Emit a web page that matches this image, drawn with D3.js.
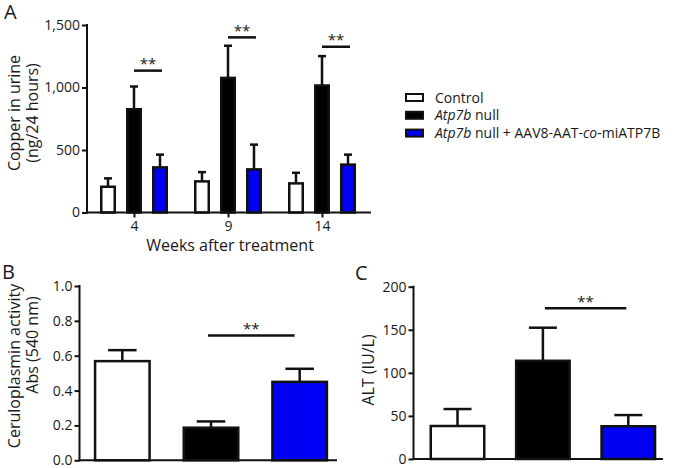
<!DOCTYPE html>
<html><head><meta charset="utf-8">
<script src="https://cdn.jsdelivr.net/npm/d3@7"></script>
<style>
body{margin:0;background:#fff}
text{font-family:"Open Sans",sans-serif;fill:#1a1a1a}
</style>
</head><body><svg id="c" width="674" height="468"></svg>
<script>
// ---------- data ----------
const weeks = ["4", "9", "14"];
const groups = ["Control", "Atp7b null", "Atp7b null + AAV8-AAT-co-miATP7B"];
const groupColors = ["#ffffff", "#000000", "#0000f5"];

// Panel A: copper in urine (ng/24 hours), mean and mean+SEM per week
const copperControl = [206, 249, 233];
const copperControlTop = [273, 323, 318];
const copperNull = [826, 1077, 1016];
const copperNullTop = [1008, 1334, 1251];
const copperTreated = [361, 345, 383];
const copperTreatedTop = [463, 543, 463];
const copperSigLevel = [1135, 1401, 1326];
const copperTicks = [0, 500, 1000, 1500];

// Panel B: ceruloplasmin activity
const cpMean = [0.569, 0.187, 0.45];
const cpTop = [0.632, 0.223, 0.525];
const cpSigLevel = 0.716;
const cpTicks = [0, 0.2, 0.4, 0.6, 0.8, 1.0];

// Panel C: ALT (IU/L)
const altMean = [38.3, 114, 38];
const altTop = [58, 152.4, 51];
const altSigLevel = 175;
const altTicks = [0, 50, 100, 150, 200];

// ---------- drawing ----------
const svg = d3.select("#c");
const INK = "#111";

function styleAxis(sel) {
  sel.selectAll("path.domain").remove();
  sel.selectAll(".tick line").attr("stroke", INK).attr("stroke-width", 2);
  sel.selectAll(".tick text").attr("font-size", 14).attr("fill", "#1a1a1a")
     .style("font-family", "'Open Sans', sans-serif");
}

function drawBar(g, cx, w, y, v, top, color) {
  g.append("line").attr("x1", cx).attr("x2", cx)
    .attr("y1", y(v)).attr("y2", y(top))
    .attr("stroke", INK).attr("stroke-width", 2.5);
  g.append("line").attr("x1", cx - w / 4).attr("x2", cx + w / 4)
    .attr("y1", y(top)).attr("y2", y(top))
    .attr("stroke", INK).attr("stroke-width", 2.5);
  g.append("rect").attr("x", cx - w / 2 + 1.25).attr("width", w - 2.5)
    .attr("y", y(v)).attr("height", y(0) - y(v))
    .attr("fill", color).attr("stroke", INK).attr("stroke-width", 2.5);
}

function sig(g, x1, x2, yy) {
  g.append("line").attr("x1", x1).attr("x2", x2).attr("y1", yy).attr("y2", yy)
    .attr("stroke", INK).attr("stroke-width", 2.5);
  g.append("text").attr("x", (x1 + x2) / 2).attr("y", yy - 1.5)
    .attr("text-anchor", "middle").attr("font-size", 15).text("**");
}

function yAxis(g, y, ticks, fmt, x0) {
  const ax = g.append("g").attr("transform", `translate(${x0},0)`)
    .call(d3.axisLeft(y).tickValues(ticks).tickFormat(fmt).tickSize(5).tickPadding(2));
  styleAxis(ax);
  g.append("line").attr("x1", x0).attr("x2", x0)
    .attr("y1", y(0) + 1).attr("y2", y(ticks[ticks.length - 1]) - 1)
    .attr("stroke", INK).attr("stroke-width", 2);
}

function baseline(g, y, x0, x1) {
  g.append("line").attr("x1", x0 - 1).attr("x2", x1).attr("y1", y(0)).attr("y2", y(0))
    .attr("stroke", INK).attr("stroke-width", 2);
}

function panelLabel(t, x, yy) {
  svg.append("text").attr("x", x).attr("y", yy).attr("font-size", 20).text(t);
}

function vLabel(g, x, yy, t) {
  g.append("text").attr("transform", `translate(${x},${yy}) rotate(-90)`)
    .attr("text-anchor", "middle").attr("font-size", 16).text(t);
}

// ---- Panel A ----
{
  const g = svg.append("g");
  const y = d3.scaleLinear([0, 1500], [212.5, 25]);
  const x = d3.scalePoint(weeks, [87, 369]).padding(0.5);
  const sub = d3.scaleBand(groups, [-39, 39]).paddingInner(10 / 26).paddingOuter(5 / 26);
  const w = sub.bandwidth();
  const means = [copperControl, copperNull, copperTreated];
  const tops = [copperControlTop, copperNullTop, copperTreatedTop];
  weeks.forEach((wk, i) => {
    groups.forEach((gr, j) => {
      drawBar(g, x(wk) + sub(gr) + w / 2, w, y, means[j][i], tops[j][i], groupColors[j]);
    });
    sig(g, x(wk) + sub(groups[1]) + w / 2, x(wk) + sub(groups[2]) + w / 2 + 2, y(copperSigLevel[i]));
  });
  yAxis(g, y, copperTicks, d3.format(","), 87);
  baseline(g, y, 87, 371);
  const xa = g.append("g").attr("transform", `translate(0,${y(0)})`)
    .call(d3.axisBottom(x).tickSize(5).tickPadding(4));
  styleAxis(xa);
  g.append("text").attr("x", 230).attr("y", 251).attr("text-anchor", "middle")
    .attr("font-size", 16).text("Weeks after treatment");
  vLabel(g, 20, 113, "Copper in urine");
  vLabel(g, 38, 113, "(ng/24 hours)");
  panelLabel("A", 4, 19);

  // legend
  const lg = svg.append("g");
  groups.forEach((gr, j) => {
    const cy = 97.5 + j * 17.8;
    lg.append("rect").attr("x", 406).attr("y", cy - 3.5).attr("width", 17).attr("height", 7)
      .attr("fill", groupColors[j]).attr("stroke", INK).attr("stroke-width", 2);
    const t = lg.append("text").attr("x", 435).attr("y", cy + 5).attr("font-size", 14);
    if (j === 0) {
      t.text(gr);
    } else {
      t.append("tspan").attr("font-style", "italic").text("Atp7b");
      if (j === 1) t.append("tspan").text(" null");
      else {
        t.append("tspan").text(" null + AAV8-AAT-");
        t.append("tspan").attr("font-style", "italic").text("co");
        t.append("tspan").text("-miATP7B");
      }
    }
  });
}

// ---- Panel B ----
{
  const g = svg.append("g");
  const y = d3.scaleLinear([0, 1], [460.3, 286]);
  const x = d3.scalePoint(groups, [78, 344]).padding(0.5);
  const w = 57;
  groups.forEach((gr, j) => drawBar(g, x(gr), w, y, cpMean[j], cpTop[j], groupColors[j]));
  sig(g, x(groups[1]) - 3, x(groups[2]) - 5, y(cpSigLevel));
  yAxis(g, y, cpTicks, d3.format(".1f"), 79.5);
  baseline(g, y, 79.5, 337);
  vLabel(g, 20, 366, "Ceruloplasmin activity");
  vLabel(g, 38, 345, "Abs (540 nm)");
  panelLabel("B", 2, 279);
}

// ---- Panel C ----
{
  const g = svg.append("g");
  const y = d3.scaleLinear([0, 200], [459, 286.7]);
  const x = d3.scalePoint(groups, [414.8, 671]).padding(0.5);
  const w = 56;
  groups.forEach((gr, j) => drawBar(g, x(gr), w, y, altMean[j], altTop[j], groupColors[j]));
  sig(g, x(groups[1]) + 2, x(groups[2]) - 2, y(altSigLevel));
  yAxis(g, y, altTicks, d3.format("d"), 413.5);
  baseline(g, y, 413.5, 663);
  vLabel(g, 374, 370, "ALT (IU/L)");
  panelLabel("C", 355, 280);
}
</script>
</body></html>
